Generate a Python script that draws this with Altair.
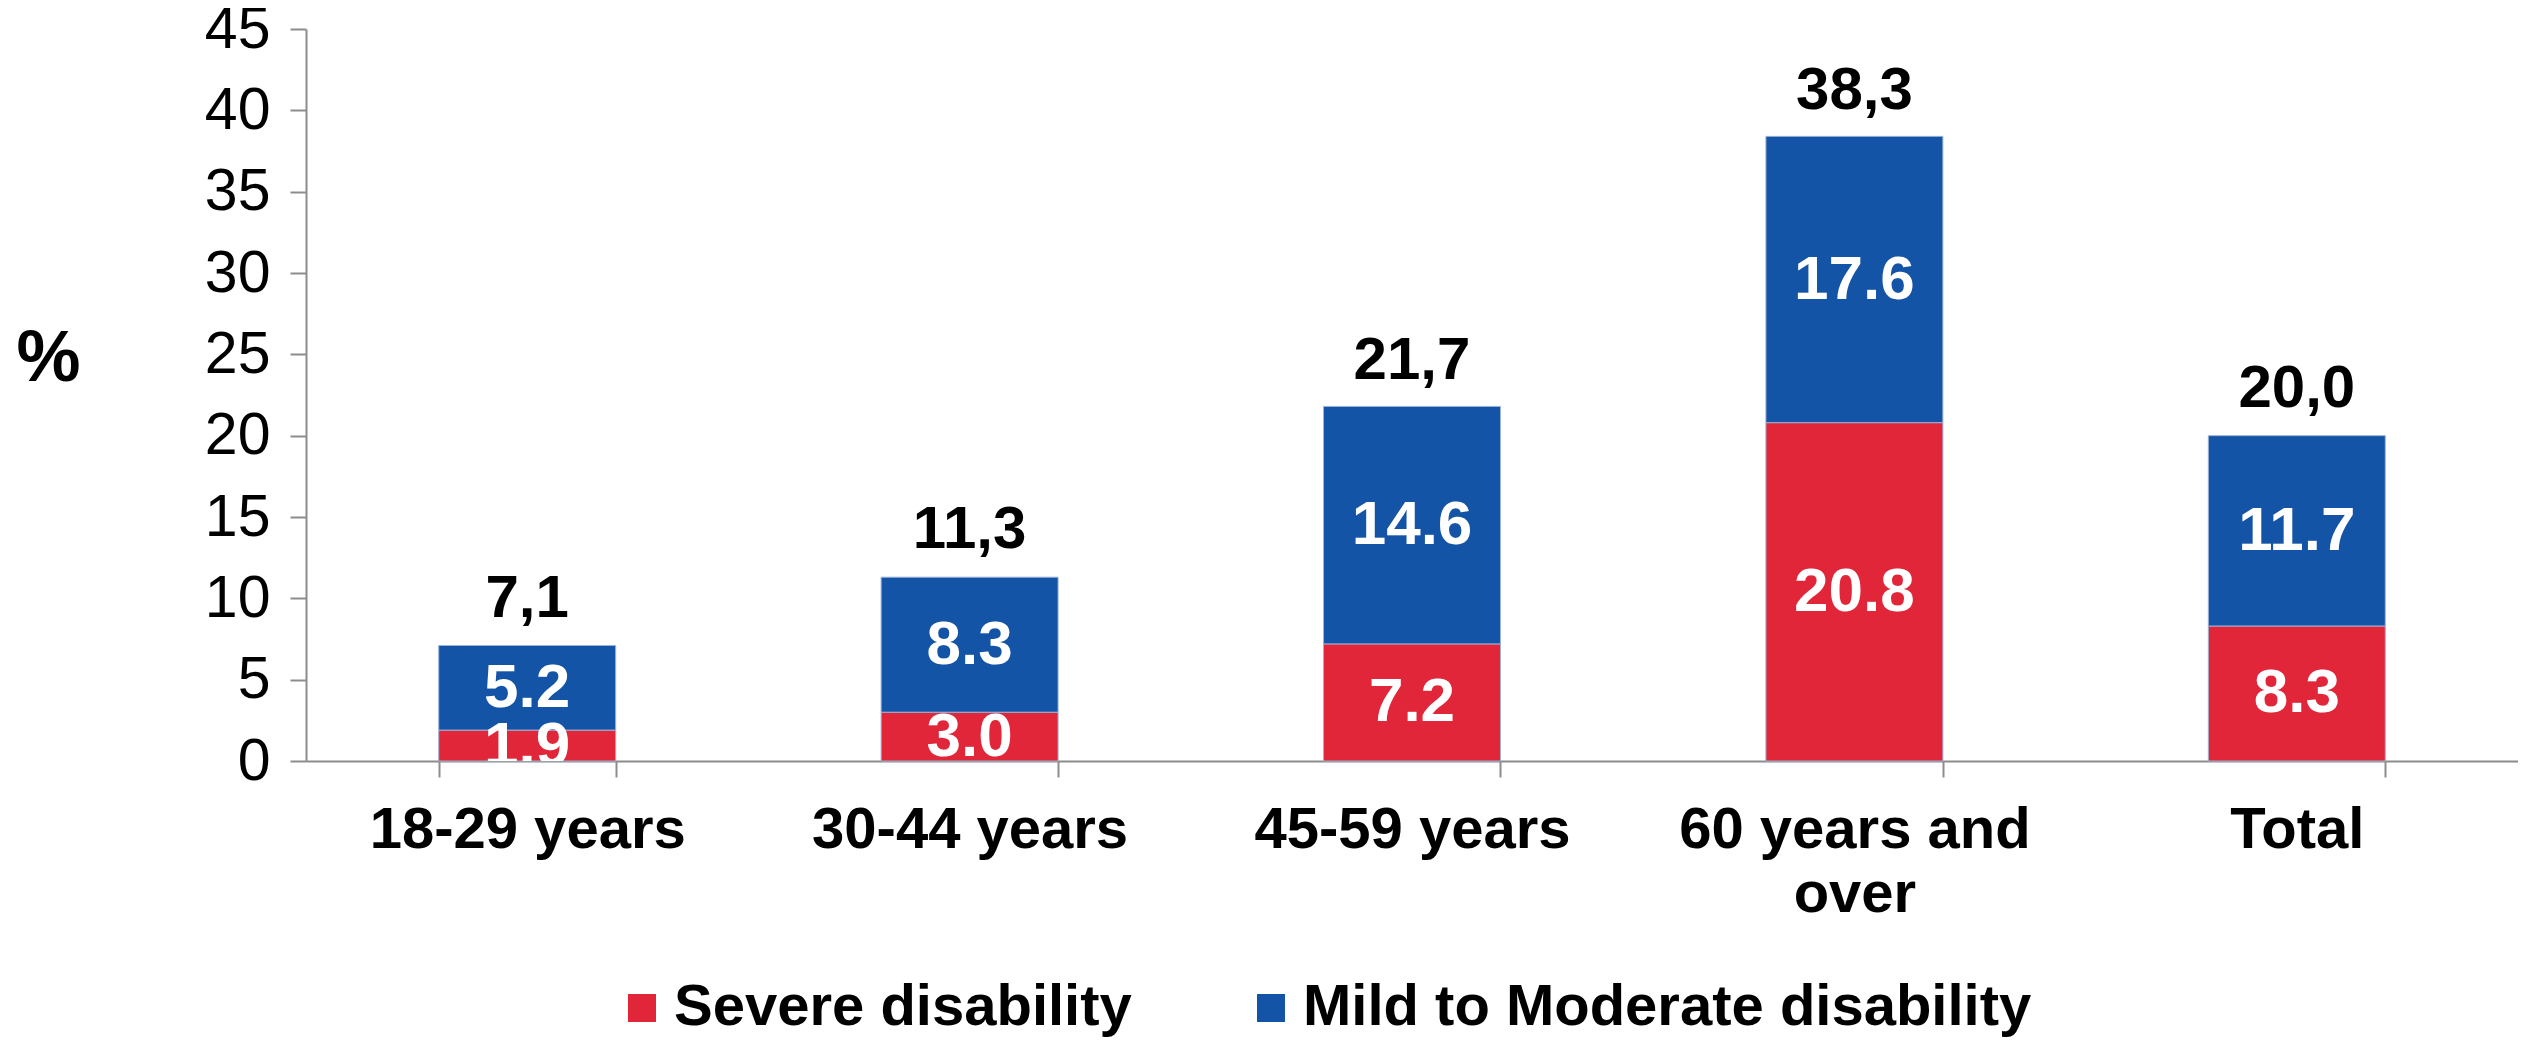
import altair as alt
import pandas as pd

categories = ["18-29 years", "30-44 years", "45-59 years", "60 years and over", "Total"]
severe = [1.9, 3.0, 7.2, 20.8, 8.3]
mild = [5.2, 8.3, 14.6, 17.6, 11.7]
totals = [7.1, 11.3, 21.7, 38.3, 20.0]
series = ["Severe disability", "Mild to Moderate disability"]
colors = ["#E2263A", "#1454A6"]
y_ticks = [0, 5, 10, 15, 20, 25, 30, 35, 40, 45]

rows = []
for c, s, m in zip(categories, severe, mild):
    rows.append({"cat": c, "series": series[0], "k": 0, "value": s})
    rows.append({"cat": c, "series": series[1], "k": 1, "value": m})
df = pd.DataFrame(rows)

tot_df = pd.DataFrame({
    "cat": categories,
    "total": totals,
    "label": [f"{t:.1f}".replace(".", ",") for t in totals],
})

AX = "#8C8C8C"
FONT = "Liberation Sans"
label_expr = "datum.label == '60 years and over' ? ['60 years and', 'over'] : datum.label"

x_enc = alt.X(
    "cat:N",
    sort=categories,
    scale=alt.Scale(paddingInner=0.6, paddingOuter=0.3),
    axis=alt.Axis(
        title=None,
        labelAngle=0,
        labelFont=FONT,
        labelFontWeight="bold",
        labelFontSize=58,
        labelColor="#000000",
        labelPadding=24,
        labelLineHeight=64,
        labelLimit=1000,
        labelExpr=label_expr,
        labelBaseline="top",
        tickBand="extent",
        tickSize=16,
        tickColor=AX,
        tickWidth=2,
        domainColor=AX,
        domainWidth=2,
    ),
)

y_scale = alt.Scale(domain=[0, 45], nice=False)

base = alt.Chart(df).transform_stack(
    stack="value",
    groupby=["cat"],
    as_=["v0", "v1"],
    sort=[alt.SortField("k", order="ascending")],
).transform_calculate(mid="(datum.v0 + datum.v1) / 2")

bars = base.mark_bar(stroke="#9DB3D6", strokeWidth=1).encode(
    x=x_enc,
    y=alt.Y(
        "v0:Q",
        scale=y_scale,
        axis=alt.Axis(
            values=y_ticks,
            title="%",
            titleAngle=0,
            titleFont=FONT,
            titleFontSize=72,
            titleFontWeight="bold",
            titleColor="#000000",
            titleX=-258,
            titleY=329,
            titleAlign="center",
            titleBaseline="middle",
            labelFont=FONT,
            labelFontSize=59,
            labelColor="#000000",
            labelPadding=20,
            tickSize=16,
            tickColor=AX,
            tickWidth=2,
            domainColor=AX,
            domainWidth=2,
            grid=False,
        ),
    ),
    y2="v1:Q",
    color=alt.Color(
        "series:N",
        scale=alt.Scale(domain=series, range=colors),
        legend=alt.Legend(
            title=None,
            orient="none",
            direction="horizontal",
            legendX=307,
            legendY=950,
            symbolType="square",
            symbolSize=784,
            symbolStrokeWidth=0,
            symbolOpacity=1,
            labelFont=FONT,
            labelFontWeight="bold",
            labelFontSize=58,
            labelColor="#000000",
            labelOffset=3,
            columnPadding=110,
            labelLimit=1000,
        ),
    ),
    order=alt.Order("k:Q"),
)

seg_text = base.mark_text(
    font=FONT,
    fontWeight="bold",
    fontSize=62,
    color="#FFFFFF",
    baseline="middle",
    align="center",
    clip=True,
).encode(
    x=alt.X("cat:N", sort=categories),
    y=alt.Y("mid:Q", scale=y_scale),
    text=alt.Text("value:Q", format=".1f"),
)

tot_text = alt.Chart(tot_df).mark_text(
    font=FONT,
    fontWeight="bold",
    fontSize=60,
    color="#000000",
    baseline="bottom",
    align="center",
    dy=-16,
).encode(
    x=alt.X("cat:N", sort=categories),
    y=alt.Y("total:Q", scale=y_scale),
    text="label:N",
)

chart = (
    alt.layer(bars, seg_text, tot_text)
    .properties(
        width=2212,
        height=732,
        autosize=alt.AutoSizeParams(type="none"),
        padding={"left": 298, "top": 21, "right": 0, "bottom": 277},
        background="#FFFFFF",
    )
    .configure_view(stroke=None)
)

chart.save("out.html", embed_options={"renderer": "svg", "actions": False})
